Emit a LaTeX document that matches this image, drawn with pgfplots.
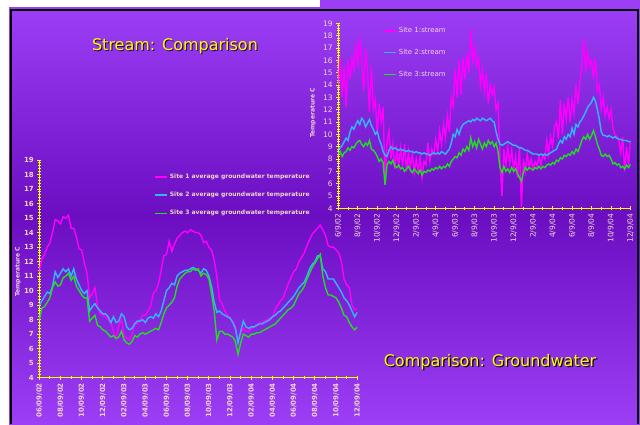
\documentclass[border=0pt]{standalone}
\usepackage{fontspec}
\setmainfont{DejaVu Sans}
\usepackage{pgfplots}
\usepackage{pgfplotstable}
\pgfplotsset{compat=1.18}
\definecolor{bgtop}{HTML}{9C3EF5}
\definecolor{bgmid}{HTML}{6B0EC2}
\definecolor{lbl}{HTML}{EED6CC}
\definecolor{leg}{HTML}{F2D4F0}
\definecolor{cmag}{HTML}{FF00FF}
\definecolor{cblue}{HTML}{30B8FF}
\definecolor{cgreen}{HTML}{20DD20}
\definecolor{axyel}{HTML}{FFFF00}

\pgfplotstableread{
m s1 s2 s3
0.0 14.0 8.8 8.4
0.2 16.3 8.9 8.6
0.4 13.0 9.1 8.2
0.6 15.5 9.4 8.5
0.8 12.2 9.7 8.6
1.0 16.0 9.5 8.9
1.2 14.5 10.2 8.7
1.4 16.2 10.6 9.0
1.6 15.2 10.4 8.9
1.8 17.4 10.8 9.2
2.0 15.5 11.1 9.4
2.2 17.9 10.8 9.5
2.4 16.0 11.3 9.2
2.6 13.5 11.1 9.0
2.8 17.0 10.6 9.3
3.0 15.0 10.9 9.1
3.2 11.8 11.2 9.5
3.4 15.5 10.7 8.8
3.6 12.0 10.4 8.7
3.8 12.8 10.0 8.5
4.0 10.0 10.2 8.2
4.2 12.5 9.6 7.8
4.4 11.0 9.2 8.0
4.6 12.2 8.6 7.7
4.8 6.0 8.3 5.9
5.0 9.5 8.2 7.5
5.2 10.3 8.7 7.8
5.4 8.0 9.0 7.6
5.6 9.2 8.8 7.9
5.8 7.2 8.9 7.4
6.0 8.8 8.8 7.3
6.2 7.5 8.7 7.5
6.4 8.9 8.8 7.2
6.6 7.4 8.7 7.3
6.8 9.2 8.7 7.0
7.0 7.0 8.6 7.2
7.2 8.6 8.7 7.4
7.4 7.3 8.6 7.1
7.6 8.4 8.6 6.9
7.8 6.9 8.5 7.2
8.0 8.0 8.6 7.0
8.2 7.0 8.5 6.8
8.4 8.2 8.5 7.1
8.6 6.5 8.4 6.7
8.8 7.8 8.5 7.0
9.0 7.5 8.4 6.9
9.2 9.3 8.4 7.1
9.4 7.8 8.3 7.0
9.6 8.8 8.4 7.2
9.8 8.4 8.5 7.1
10.0 9.6 8.4 7.3
10.2 8.6 8.5 7.2
10.4 10.3 8.4 7.4
10.6 9.2 8.6 7.2
10.8 10.8 8.5 7.4
11.0 9.7 8.4 7.3
11.2 11.5 8.6 7.6
11.4 10.2 8.8 7.4
11.6 13.0 9.3 7.8
11.8 12.3 10.0 8.0
12.0 15.3 9.8 8.2
12.2 13.0 10.4 8.1
12.4 16.0 10.0 8.5
12.6 13.2 10.5 8.3
12.8 16.2 10.8 8.8
13.0 14.5 10.9 8.6
13.2 16.5 11.0 9.0
13.4 15.0 11.1 8.7
13.6 18.5 11.0 9.7
13.8 16.0 11.2 9.0
14.0 17.0 11.1 9.4
14.2 15.5 11.3 8.9
14.4 16.2 11.2 9.6
14.6 14.0 11.1 9.2
14.8 15.2 11.3 8.8
15.0 13.5 11.2 9.3
15.2 14.9 11.1 9.0
15.4 12.5 11.2 9.5
15.6 14.0 11.3 9.2
15.8 13.2 11.1 9.4
16.0 13.8 11.0 9.0
16.2 12.0 10.2 9.3
16.4 12.5 9.6 8.6
16.6 8.0 9.2 7.3
16.8 5.0 9.1 6.9
17.0 8.8 9.2 7.4
17.2 7.5 9.3 7.0
17.4 9.0 9.4 7.2
17.6 7.6 9.3 6.9
17.8 8.7 9.2 7.3
18.0 7.2 9.1 7.0
18.2 8.2 9.1 7.2
18.4 6.5 9.0 6.8
18.6 9.0 8.9 6.5
18.8 4.1 8.9 6.2
19.0 8.0 8.8 6.9
19.2 7.0 8.7 7.3
19.4 8.4 8.7 7.1
19.6 7.3 8.6 7.3
19.8 8.0 8.5 7.2
20.0 7.2 8.4 7.1
20.2 7.8 8.4 7.3
20.4 7.4 8.4 7.2
20.6 8.2 8.3 7.4
20.8 7.5 8.4 7.2
21.0 8.3 8.3 7.4
21.2 8.0 8.4 7.3
21.4 9.5 8.3 7.5
21.6 8.4 8.4 7.6
21.8 9.8 8.5 7.5
22.0 9.0 8.6 7.7
22.2 10.6 8.7 7.6
22.4 11.0 8.8 7.9
22.6 9.6 9.2 7.8
22.8 12.8 9.5 8.1
23.0 10.0 9.3 8.0
23.2 12.5 9.8 8.3
23.4 11.2 9.6 8.2
23.6 13.0 10.0 8.4
23.8 11.0 9.8 8.3
24.0 12.8 10.5 8.6
24.2 11.7 10.0 8.4
24.4 14.0 10.8 8.8
24.6 12.5 10.6 8.6
24.8 14.2 11.0 9.0
25.0 15.5 11.2 9.5
25.2 17.8 11.5 9.8
25.4 15.0 11.8 9.6
25.6 16.7 12.2 10.0
25.8 15.5 12.4 9.6
26.0 16.0 12.6 9.9
26.2 14.5 13.0 10.3
26.4 16.2 12.7 9.8
26.6 13.5 12.0 9.2
26.8 14.0 11.2 8.8
27.0 12.0 10.2 8.3
27.2 13.0 9.9 8.2
27.4 11.5 9.9 8.4
27.6 12.2 9.8 8.2
27.8 11.3 9.9 8.3
28.0 12.0 9.8 8.0
28.2 10.5 9.7 7.6
28.4 10.0 9.8 7.7
28.6 9.8 9.7 7.5
28.8 9.5 9.6 7.6
29.0 8.5 9.6 7.3
29.2 9.8 9.5 7.4
29.4 7.0 9.5 7.2
29.6 9.0 9.5 7.5
29.8 7.5 9.4 7.3
30.0 9.5 9.4 7.6
}\stream

\pgfplotstableread{
m s1 s2 s3
0.00 11.3 9.0 8.0
0.25 12.2 9.3 8.8
0.50 12.5 9.6 8.9
0.75 13.0 9.9 9.2
1.00 13.3 9.8 9.5
1.25 14.0 10.3 10.2
1.50 14.9 11.3 10.6
1.75 14.8 10.9 10.3
2.00 14.6 11.2 10.4
2.25 15.1 11.5 10.9
2.50 15.0 11.3 11.0
2.75 15.2 11.5 11.2
3.00 14.3 11.0 10.7
3.25 14.3 11.5 11.0
3.50 13.7 10.8 10.3
3.75 12.9 10.4 10.0
4.00 12.8 10.0 9.7
4.25 11.9 9.8 9.5
4.50 11.2 10.0 9.5
4.75 9.5 8.6 7.9
5.00 9.8 8.9 8.1
5.25 10.2 9.1 8.3
5.50 8.9 8.8 7.6
5.75 8.4 8.6 7.5
6.00 8.3 8.4 7.3
6.25 8.2 8.4 7.2
6.50 8.0 8.2 7.0
6.75 7.8 7.8 6.8
7.00 7.2 8.2 6.9
7.25 6.7 7.8 6.7
7.50 7.6 7.9 6.8
7.75 8.0 8.4 7.2
8.00 6.9 8.2 6.6
8.25 6.7 7.5 6.4
8.50 6.6 7.3 6.3
8.75 7.0 7.4 6.5
9.00 7.8 7.7 6.9
9.25 7.7 7.9 6.8
9.50 8.0 7.9 7.0
9.75 8.3 8.0 7.1
10.00 8.3 7.8 7.0
10.25 8.6 8.1 7.1
10.50 8.9 8.2 7.2
10.75 9.8 8.1 7.3
11.00 10.0 8.4 7.4
11.25 10.5 8.2 7.3
11.50 11.4 8.6 7.8
11.75 12.4 9.3 8.4
12.00 12.5 10.0 8.8
12.25 13.4 10.2 9.0
12.50 12.7 10.5 9.2
12.75 13.2 10.4 9.5
13.00 13.6 11.0 10.3
13.25 13.8 11.2 10.8
13.50 14.0 11.3 11.0
13.75 14.1 11.4 11.2
14.00 14.0 11.4 11.3
14.25 14.2 11.5 11.3
14.50 14.1 11.6 11.5
14.75 14.0 11.5 11.4
15.00 14.0 11.4 11.5
15.25 13.8 11.2 11.0
15.50 13.3 11.5 11.2
15.75 13.4 11.4 11.1
16.00 13.0 11.0 10.8
16.25 12.8 10.3 9.8
16.50 12.1 9.2 8.6
16.75 11.0 8.5 6.6
17.00 9.4 8.6 7.2
17.25 9.1 8.4 7.2
17.50 8.6 8.3 7.0
17.75 8.3 8.2 7.0
18.00 8.1 8.1 6.9
18.25 7.9 7.8 6.8
18.50 7.5 7.4 6.5
18.75 6.5 6.4 5.6
19.00 7.0 7.2 6.4
19.25 7.4 7.9 7.0
19.50 7.2 7.5 6.9
19.75 7.2 7.4 6.8
20.00 7.4 7.5 7.0
20.25 7.5 7.5 7.0
20.50 7.6 7.6 7.1
20.75 7.8 7.7 7.1
21.00 7.8 7.7 7.2
21.25 7.9 7.8 7.3
21.50 8.0 7.9 7.4
21.75 8.1 8.0 7.5
22.00 8.2 8.2 7.6
22.25 8.7 8.3 7.7
22.50 9.0 8.5 7.9
22.75 9.3 8.6 8.1
23.00 9.5 8.8 8.3
23.25 10.0 9.0 8.5
23.50 10.5 9.2 8.7
23.75 10.9 9.4 8.8
24.00 11.3 9.6 9.0
24.25 11.5 9.9 9.4
24.50 12.0 10.2 9.8
24.75 12.3 10.4 10.0
25.00 12.6 10.6 10.3
25.25 13.1 11.0 10.8
25.50 13.5 11.5 11.2
25.75 13.9 11.8 11.6
26.00 14.1 12.0 11.9
26.25 14.3 12.4 12.2
26.50 14.5 12.4 12.5
26.75 14.2 11.5 11.0
27.00 13.8 11.3 10.2
27.25 13.1 10.8 9.7
27.50 13.0 10.8 9.7
27.75 13.0 10.8 9.6
28.00 12.8 10.5 9.5
28.25 12.6 10.2 9.2
28.50 12.0 9.9 8.8
28.75 10.8 9.5 8.3
29.00 10.4 9.3 8.2
29.25 10.2 9.0 7.8
29.50 9.0 8.6 7.5
29.75 8.7 8.2 7.3
30.00 8.7 8.5 7.5
}\ground

\pgfplotsset{slide/.style={
  scale only axis, xmin=0, xmax=30, ymin=4, ymax=19,
  axis x line*=bottom, axis y line*=left,
  axis line style={axyel, line width=1.1pt, -},
  xtick={0,2,...,30}, minor xtick={1,3,...,29},
  ytick={4,5,...,19}, minor y tick num=4,
  tick style={axyel, line width=0.9pt},
  major tick length=4pt, minor tick length=2.5pt,
  tick align=center,
  /pgf/number format/assume math mode=true,
  xticklabel style={rotate=90, anchor=east, color=lbl},
  yticklabel style={color=lbl},
  legend cell align=left,
}}

\begin{document}
\begin{tikzpicture}[x=1pt,y=1pt]
\path[use as bounding box] (0,0) rectangle (640,424);
\fill[white] (0,0) rectangle (640,424);
\shade[top color=bgtop, bottom color=bgtop, middle color=bgmid] (9,0) rectangle (640,416);
\fill[bgtop] (320,416) rectangle (640,424);
\draw[black, line width=2pt] (11,0) -- (11,414) -- (637.5,414) -- (637.5,0);

\node[font=\fontsize{16}{18}\selectfont, text=black!70!bgmid] at (176,377) {Stream: Comparison};
\node[font=\fontsize{16}{18}\selectfont, text=axyel] at (175,378) {Stream: Comparison};
\node[font=\fontsize{16}{18}\selectfont, text=black] at (491.2,60.8) {Comparison: Groundwater};
\node[font=\fontsize{16}{18}\selectfont, text=axyel] at (490,62) {Comparison: Groundwater};

\begin{axis}[slide, width=318pt, height=217.7pt, at={(39.3pt,46.3pt)}, anchor=south west,
  xticklabels={06/09/02,08/09/02,10/09/02,12/09/02,02/09/03,04/09/03,06/09/03,08/09/03,10/09/03,12/09/03,02/09/04,04/09/04,06/09/04,08/09/04,10/09/04,12/09/04},
  ticklabel style={font=\bfseries\fontsize{7}{8}\selectfont},
  ylabel={Temperature C},
  ylabel style={font=\bfseries\fontsize{6}{7}\selectfont, color=lbl, at={(axis description cs:-0.067,0.486)}, anchor=center},
  legend image code/.code={\draw[#1, line width=1.6pt] (0pt,0pt) -- (12pt,0pt);},
  legend style={at={(axis description cs:0.361,0.945)}, anchor=north west, draw=none, fill=none,
    font=\bfseries\fontsize{6}{7}\selectfont, row sep=8pt, inner sep=0pt},
]
\addplot[cmag, line width=1.4pt] table[x=m,y=s1]{\ground};
\addlegendentry{\textcolor{lbl}{Site 1 average groundwater temperature}}
\addplot[cblue, line width=1.4pt] table[x=m,y=s2]{\ground};
\addlegendentry{\textcolor{lbl}{Site 2 average groundwater temperature}}
\addplot[cgreen, line width=1.4pt] table[x=m,y=s3]{\ground};
\addlegendentry{\textcolor{lbl}{Site 3 average groundwater temperature}}
\end{axis}

\begin{axis}[slide, width=292.2pt, height=185pt, at={(338.3pt,215.7pt)}, anchor=south west,
  xticklabels={6/9/02,8/9/02,10/9/02,12/9/02,2/9/03,4/9/03,6/9/03,8/9/03,10/9/03,12/9/03,2/9/04,4/9/04,6/9/04,8/9/04,10/9/04,12/9/04},
  ticklabel style={font=\fontsize{7.5}{8}\selectfont},
  ylabel={Temperature C},
  ylabel style={font=\bfseries\fontsize{6}{7}\selectfont, color=lbl, at={(axis description cs:-0.0866,0.515)}, anchor=center},
  legend image code/.code={\draw[#1, line width=1.6pt] (0pt,0pt) -- (12pt,0pt);},
  legend style={at={(axis description cs:0.153,0.99)}, anchor=north west, draw=none, fill=none,
    font=\fontsize{7}{8}\selectfont, row sep=11pt, inner sep=0pt},
]
\addplot[cmag, line width=1.4pt] table[x=m,y=s1]{\stream};
\addlegendentry{\textcolor{leg}{Site 1:stream}}
\addplot[cblue, line width=1.4pt] table[x=m,y=s2]{\stream};
\addlegendentry{\textcolor{leg}{Site 2:stream}}
\addplot[cgreen, line width=1.4pt] table[x=m,y=s3]{\stream};
\addlegendentry{\textcolor{leg}{Site 3:stream}}
\end{axis}
\end{tikzpicture}
\end{document}
